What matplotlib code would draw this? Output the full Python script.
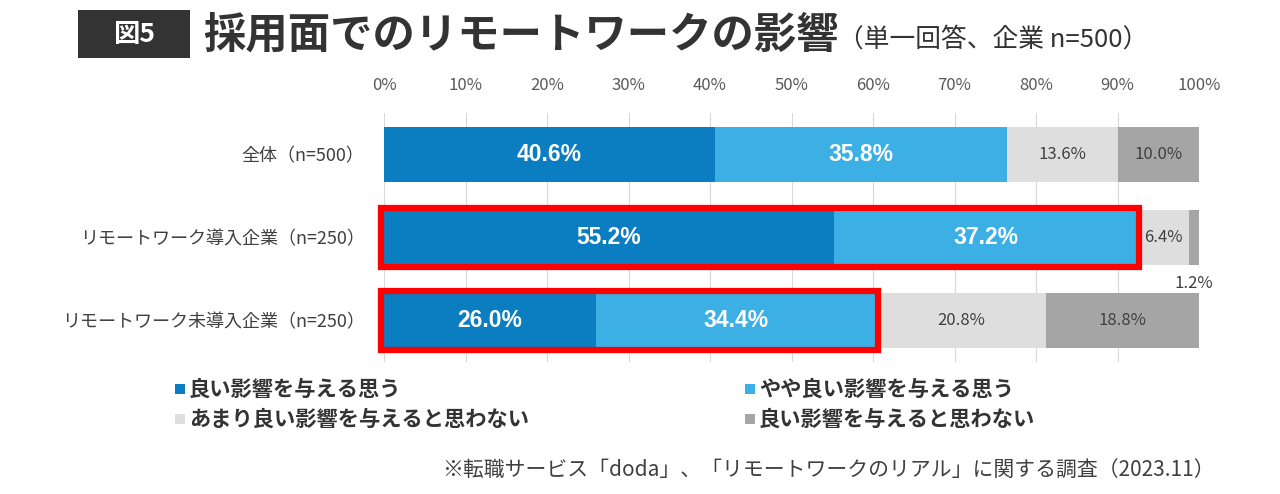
import matplotlib
matplotlib.use("Agg")
import matplotlib.pyplot as plt
from matplotlib.patches import Rectangle
import numpy as np

plt.rcParams["font.family"] = ["Noto Sans CJK JP", "DejaVu Sans"]

categories = ["全体（n=500）", "リモートワーク導入企業（n=250）", "リモートワーク未導入企業（n=250）"]
series_names = ["良い影響を与える思う", "やや良い影響を与える思う",
                "あまり良い影響を与えると思わない", "良い影響を与えると思わない"]
good = [40.6, 55.2, 26.0]
somewhat_good = [35.8, 37.2, 34.4]
not_much = [13.6, 6.4, 20.8]
not_good = [10.0, 1.2, 18.8]
highlight_rows = [1, 2]   # remote-work rows boxed in red

colors = ["#0b7dc1", "#3cafe4", "#dedede", "#a5a5a5"]
label_colors = ["white", "white", "#404040", "#404040"]

fig = plt.figure(figsize=(12.8, 4.94), dpi=100)
ax = fig.add_axes([384 / 1280, 1 - 362 / 494, 815 / 1280, 249 / 494])

y = np.arange(len(categories))
bar_h = 0.66
data = [good, somewhat_good, not_much, not_good]
left = np.zeros(len(categories))
for vals, col, tcol in zip(data, colors, label_colors):
    vals = np.array(vals)
    ax.barh(y, vals, left=left, height=bar_h, color=col, zorder=2)
    for i, v in enumerate(vals):
        cx = left[i] + v / 2
        if tcol == "white":
            ax.text(cx, y[i], f"{v:.1f}%", ha="center", va="center", color="white",
                    fontsize=16.5, fontweight="bold", family=["Liberation Sans", "DejaVu Sans"], zorder=4)
        elif v < 3:
            # too thin, put label under the bar
            ax.text(cx, y[i] + 0.56, f"{v:.1f}%", ha="center", va="center",
                    color=tcol, fontsize=12, zorder=4, clip_on=False)
        else:
            ax.text(cx, y[i], f"{v:.1f}%", ha="center", va="center",
                    color=tcol, fontsize=12, zorder=4)
    left = left + vals

# red boxes round the positive answers
for r in highlight_rows:
    total = good[r] + somewhat_good[r]
    ax.add_patch(Rectangle((-0.4, r - 0.36), total + 0.6, 0.72, fill=False,
                           edgecolor="#ff0000", linewidth=4.5, zorder=5, clip_on=False))

ax.set_xlim(0, 100)
ax.set_ylim(2.5, -0.5)
ax.set_xticks(np.arange(0, 101, 10))
ax.set_xticklabels([f"{t}%" for t in range(0, 101, 10)])
ax.xaxis.tick_top()
ax.tick_params(axis="x", length=0, labelsize=12, labelcolor="#595959", pad=14)
ax.set_yticks(y)
ax.set_yticklabels(categories)
ax.tick_params(axis="y", length=0, labelsize=13, labelcolor="#404040", pad=14)
ax.grid(axis="x", color="#d9d9d9", linewidth=0.8, zorder=0)
for s in ax.spines.values():
    s.set_visible(False)

# title
fig.patches.append(Rectangle((78 / 1280, 1 - 58 / 494), 112 / 1280, 48 / 494,
                             transform=fig.transFigure, facecolor="#333333", edgecolor="none"))
fig.text(134 / 1280, 1 - 34 / 494, "図5", ha="center", va="center", color="white",
         fontsize=19, fontweight="bold")
fig.text(203 / 1280, 1 - 36 / 494, "採用面でのリモートワークの影響", ha="left", va="center",
         color="#333333", fontsize=30.5, fontweight="bold")
fig.text(838 / 1280, 1 - 40 / 494, "（単一回答、企業 n=500）", ha="left", va="center",
         color="#333333", fontsize=18.5)

# legend
legend_pos = [(175, 389), (745, 389), (175, 419), (745, 419)]
for (px, py), name, col in zip(legend_pos, series_names, colors):
    fig.patches.append(Rectangle((px / 1280, 1 - (py + 5) / 494), 10 / 1280, 10 / 494,
                                 transform=fig.transFigure, facecolor=col, edgecolor="none"))
    fig.text((px + 14) / 1280, 1 - py / 494, name, ha="left", va="center",
             color="#333333", fontsize=15.3, fontweight="bold")

fig.text(1215 / 1280, 1 - 470 / 494,
         "※転職サービス「doda」、「リモートワークのリアル」に関する調査（2023.11）",
         ha="right", va="center", color="#404040", fontsize=15)

fig.savefig("out.png", dpi=100, facecolor="white")
